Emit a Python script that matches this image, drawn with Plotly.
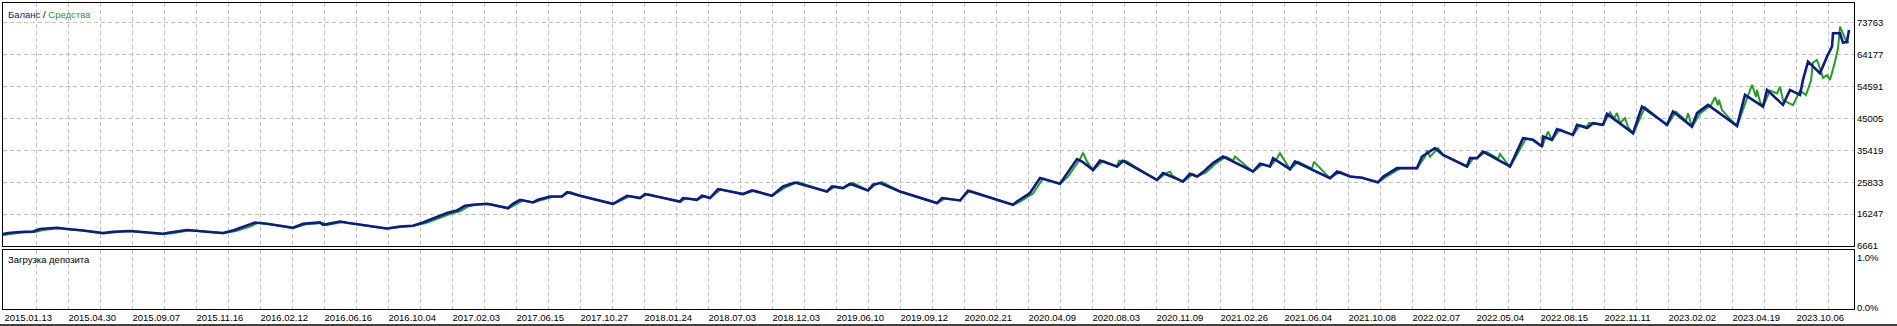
import plotly.graph_objects as go

# ---------------- data ----------------
date_labels = ["2015.01.13", "2015.04.30", "2015.09.07", "2015.11.16", "2016.02.12", "2016.06.16",
               "2016.10.04", "2017.02.03", "2017.06.15", "2017.10.27", "2018.01.24", "2018.07.03",
               "2018.12.03", "2019.06.10", "2019.09.12", "2020.02.21", "2020.04.09", "2020.08.03",
               "2020.11.09", "2021.02.26", "2021.06.04", "2021.10.08", "2022.02.07", "2022.05.04",
               "2022.08.15", "2022.11.11", "2023.02.02", "2023.04.19", "2023.10.06"]

y_tick_values = [6661, 16247, 25833, 35419, 45005, 54591, 64177, 73763]
load_ticks = [0, 1]
load_labels = ["0.0%", "1.0%"]

balance_deal = [0, 5, 17, 30, 37, 54, 64, 80, 100, 110, 127, 137, 160, 167, 184, 204, 220, 230, 244, 252,
                264, 290, 300, 317, 320, 337, 344, 364, 384, 397, 410, 420, 434, 444, 454, 462, 470, 484,
                505, 510, 517, 530, 535, 547, 559, 564, 577, 610, 624, 637, 642, 677, 680, 694, 699, 707,
                715, 740, 749, 769, 780, 792, 824, 829, 840, 847, 865, 870, 877, 897, 934, 939, 957, 965,
                1010, 1014, 1027, 1037, 1057, 1062, 1074, 1079, 1090, 1097, 1114, 1120, 1154, 1160, 1180,
                1187, 1194, 1200, 1210, 1220, 1250, 1257, 1267, 1270, 1287, 1292, 1327, 1334, 1347, 1359,
                1375, 1380, 1394, 1414, 1419, 1432, 1440, 1464, 1467, 1474, 1480, 1507, 1520, 1530, 1539,
                1540, 1549, 1554, 1570, 1574, 1584, 1590, 1600, 1604, 1617, 1630, 1639, 1664, 1670, 1689,
                1694, 1705, 1734, 1742, 1760, 1764, 1780, 1787, 1797, 1800, 1805, 1817, 1824, 1829, 1830,
                1837, 1840, 1844, 1846]
balance_value = [10262, 10562, 10862, 11042, 11763, 12153, 11763, 11343, 10562, 10952, 11163, 10862, 10352,
                 10742, 11463, 10952, 10562, 11343, 12753, 13743, 13353, 12153, 13353, 13743, 13053, 14043,
                 13653, 12753, 11943, 12543, 12753, 13743, 15364, 16564, 17345, 18755, 19055, 19355, 18065,
                 19355, 20556, 19745, 20556, 21546, 21546, 22866, 21756, 19355, 21756, 21066, 22266, 20045,
                 21066, 20556, 21756, 21066, 23767, 22266, 23347, 21756, 24547, 25747, 23046, 24547, 24067,
                 25357, 23347, 25057, 25567, 23046, 19565, 21066, 20346, 23256, 19055, 20045, 22566, 27068,
                 25357, 27548, 32770, 32049, 29559, 32350, 30549, 32260, 26558, 28568, 26047, 28358, 27548,
                 28868, 31569, 33550, 29048, 31359, 30549, 33070, 29769, 32049, 27068, 29048, 27548, 27158,
                 25807, 27458, 30069, 30069, 33550, 36071, 34060, 30549, 33070, 33070, 35050, 30549, 39072,
                 38562, 36551, 39552, 38562, 41773, 40062, 43063, 42073, 43573, 43063, 46364, 43573, 40572,
                 48555, 43063, 47054, 42553, 46574, 49065, 42763, 52066, 48555, 53567, 49065, 53567, 52066,
                 56568, 62059, 58578, 63560, 66561, 70582, 70582, 67761, 68061, 71573]

equity_deal = [0, 7, 19, 32, 40, 55, 64, 80, 100, 113, 127, 137, 160, 171, 187, 204, 220, 233, 247, 255,
               264, 290, 303, 320, 323, 340, 344, 364, 384, 400, 410, 423, 437, 447, 457, 465, 473, 487,
               505, 513, 520, 530, 538, 550, 559, 567, 577, 610, 627, 637, 645, 677, 683, 694, 702, 707,
               718, 740, 752, 769, 783, 795, 824, 832, 840, 850, 865, 873, 879, 897, 934, 942, 957, 967,
               1010, 1017, 1030, 1040, 1057, 1065, 1077, 1080, 1084, 1090, 1100, 1114, 1116, 1123, 1154,
               1163, 1167, 1169, 1180, 1190, 1194, 1203, 1213, 1223, 1230, 1232, 1250, 1260, 1267, 1274,
               1277, 1287, 1295, 1309, 1311, 1327, 1337, 1347, 1359, 1375, 1383, 1397, 1414, 1422, 1424,
               1427, 1435, 1440, 1464, 1470, 1474, 1483, 1495, 1497, 1507, 1523, 1530, 1539, 1543, 1545,
               1549, 1557, 1570, 1577, 1584, 1586, 1590, 1600, 1607, 1611, 1614, 1617, 1622, 1625, 1630,
               1642, 1664, 1673, 1683, 1685, 1689, 1697, 1708, 1712, 1715, 1716, 1719, 1734, 1745, 1749,
               1753, 1754, 1757, 1760, 1767, 1774, 1777, 1780, 1790, 1797, 1803, 1808, 1810, 1814, 1817,
               1820, 1824, 1827, 1832, 1835, 1837, 1840, 1844, 1846]
equity_value = [9900, 10300, 10700, 10900, 11500, 12000, 11763, 11343, 10400, 10850, 11163, 10862, 10200,
                10600, 11400, 10952, 10500, 11200, 12500, 13600, 13353, 12000, 13200, 13600, 12950, 13900,
                13653, 12753, 11850, 12450, 12753, 13600, 15100, 16300, 17100, 18500, 19055, 19300, 17900,
                19100, 20400, 19745, 20400, 21450, 21546, 22900, 21756, 19200, 21650, 21066, 22300, 19900,
                21000, 20556, 21650, 21066, 23700, 22266, 23300, 21700, 24400, 25900, 23000, 24500, 24067,
                25600, 23300, 25200, 25900, 23046, 19500, 21000, 20346, 23300, 19000, 20000, 22400, 27000,
                25300, 27500, 32700, 34750, 32000, 29400, 32300, 30500, 32300, 32200, 26400, 28500, 29000,
                27900, 25900, 28300, 27548, 28800, 31500, 33500, 32300, 33550, 29000, 31300, 30549, 33000,
                34570, 29700, 32000, 29900, 32000, 27000, 29000, 27548, 27158, 25700, 27400, 30000, 30000,
                33500, 35350, 33500, 36000, 34060, 30400, 33000, 33070, 35000, 32900, 34300, 30400, 39000,
                38562, 36500, 39500, 41050, 38562, 41700, 40000, 43000, 42500, 43600, 43573, 43063, 46800,
                45000, 46600, 43573, 45070, 42500, 40300, 48400, 42900, 47000, 44300, 46574, 42400, 46500,
                49000, 51374, 49000, 50564, 47500, 42600, 51800, 55067, 51500, 53567, 50000, 48400, 53400,
                52500, 54556, 50500, 49000, 53400, 52000, 56400, 61800, 62570, 60000, 57168, 58000, 56570,
                62000, 66000, 72562, 70582, 67761, 68000, 72086]

# ---------------- figure ----------------
BLUE = "#0c1a8a"
GREEN = "#22a022"
GRID = "#c4c4c4"
FONT = "Liberation Sans"

fig = go.Figure()
fig.add_trace(go.Scatter(x=equity_deal, y=equity_value, mode="lines", name="Средства",
                         line=dict(color=GREEN, width=2), xaxis="x", yaxis="y", hoverinfo="skip"))
fig.add_trace(go.Scatter(x=balance_deal, y=balance_value, mode="lines", name="Баланс",
                         line=dict(color=BLUE, width=2.6), xaxis="x", yaxis="y", hoverinfo="skip"))
# empty trace for bottom panel (deposit load)
fig.add_trace(go.Scatter(x=[0], y=[None], mode="lines", xaxis="x2", yaxis="y2", showlegend=False,
                         hoverinfo="skip"))

grid_vals = [1 + 32 * k for k in range(58)]
grid_text = [date_labels[k // 2] if k % 2 == 0 else "" for k in range(58)]

x_common = dict(range=[0, 1851], showline=True, mirror=True, linecolor="black", linewidth=1,
                showgrid=True, gridcolor=GRID, griddash="4px,3px", gridwidth=1, zeroline=False,
                tickmode="array", tickvals=grid_vals, fixedrange=True)

fig.update_layout(
    width=1897, height=326,
    margin=dict(l=3, r=43, t=3, b=17, pad=0),
    paper_bgcolor="white", plot_bgcolor="white",
    showlegend=False,
    font=dict(family=FONT, size=9, color="black"),
    xaxis=dict(**x_common, domain=[0, 1], anchor="y", showticklabels=False, ticks=""),
    xaxis2=dict(**x_common, domain=[0, 1], anchor="y2", ticktext=grid_text, showticklabels=True,
                ticks="", ticklabelposition="outside right", tickfont=dict(family=FONT, size=9.5)),
    yaxis=dict(domain=[0.2045, 1], range=[6541, 79675], side="right", anchor="x",
               showline=True, mirror=True, linecolor="black", linewidth=1,
               showgrid=True, gridcolor=GRID, griddash="4px,3px", zeroline=False,
               tickmode="array", tickvals=y_tick_values, ticktext=[str(v) for v in y_tick_values],
               ticks="", tickfont=dict(family=FONT, size=9.5), fixedrange=True),
    yaxis2=dict(domain=[0, 0.1942], range=[-0.03, 1.152], side="right", anchor="x2",
                showline=True, mirror=True, linecolor="black", linewidth=1,
                showgrid=False, zeroline=False,
                tickmode="array", tickvals=load_ticks, ticktext=load_labels,
                ticks="", tickfont=dict(family=FONT, size=9.5), fixedrange=True),
)

fig.add_annotation(xref="paper", yref="paper", x=0, y=1, xanchor="left", yanchor="top",
                   xshift=3, yshift=-4, showarrow=False,
                   text="<span style='color:#0c1a8a'>Баланс</span> / <span style='color:#22a022'>Средства</span>",
                   font=dict(family=FONT, size=9.5, color="black"))
fig.add_annotation(xref="paper", yref="y2 domain", x=0, y=1, xanchor="left", yanchor="top",
                   xshift=3, yshift=-2, showarrow=False, text="Загрузка депозита",
                   font=dict(family=FONT, size=9.5, color="black"))

# bottom frame line
fig.add_shape(type="line", xref="paper", yref="paper", x0=-0.002, x1=1.024, y0=-0.0523, y1=-0.0523,
              line=dict(color="black", width=1.5))

fig.write_html("out.html")
